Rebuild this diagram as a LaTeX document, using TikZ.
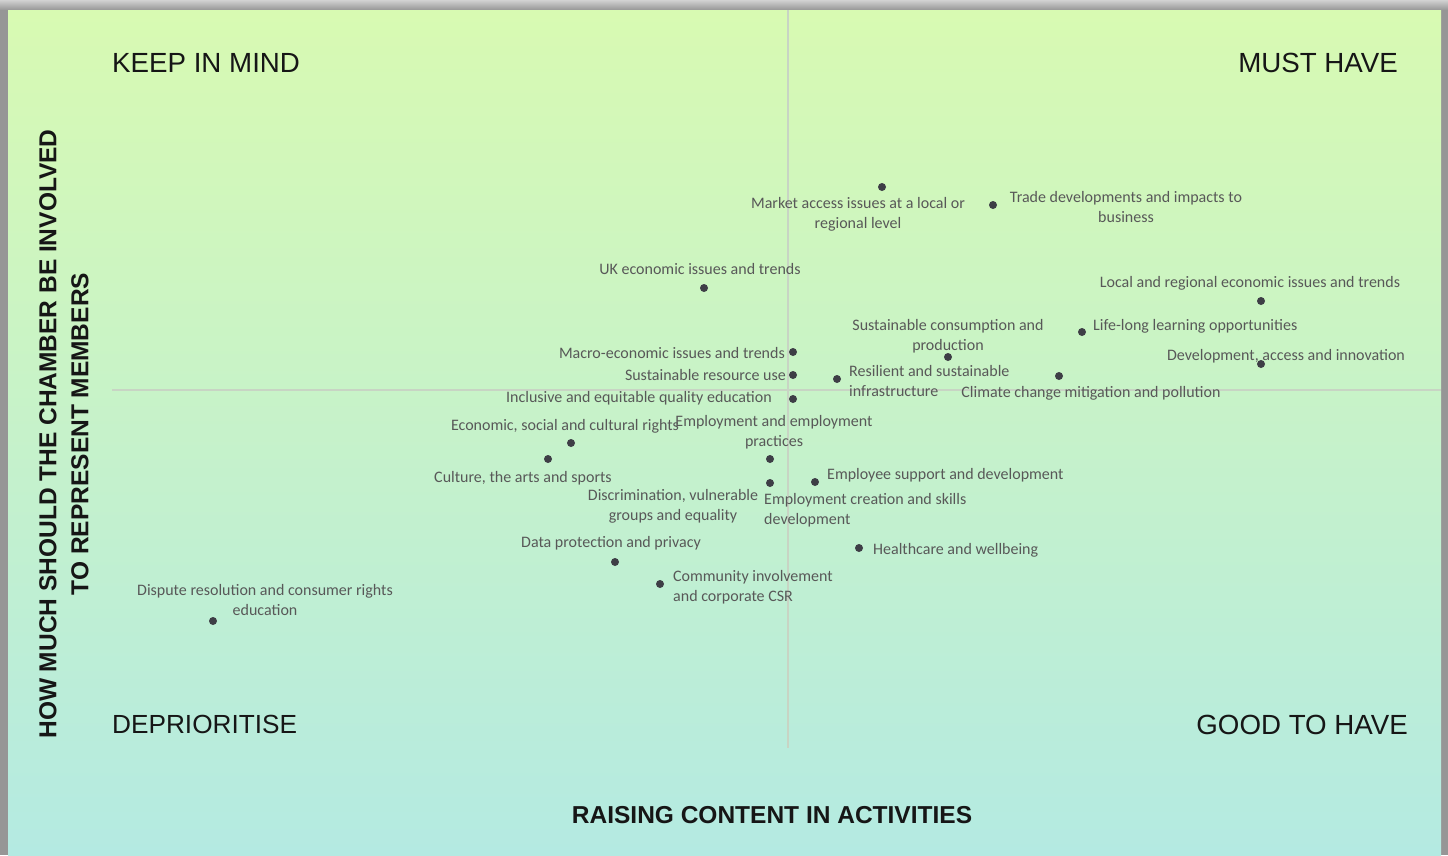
\documentclass[tikz,border=0pt]{standalone}
\usepackage{fontspec}
\newfontfamily\lblfont{Carlito}
\newfontfamily\headfont{Liberation Sans}
\definecolor{dotgray}{RGB}{62,62,70}
\definecolor{lblgray}{RGB}{88,88,88}
\definecolor{headblack}{RGB}{22,22,22}
\definecolor{topgreen}{RGB}{216,250,178}
\definecolor{midgreen}{RGB}{198,241,200}
\definecolor{botcyan}{RGB}{180,234,226}
\definecolor{axisgray}{RGB}{200,212,196}
\definecolor{framegray}{RGB}{150,150,150}

\begin{document}
\begin{tikzpicture}[x=1pt,y=-1pt,
    dot/.style={circle,fill=dotgray,inner sep=0pt,minimum size=8pt},
    lbl/.style={font=\lblfont\fontsize{16}{20}\selectfont,text=lblgray,inner sep=0pt,align=center,anchor=base,yshift=-2pt},
    quad/.style={font=\headfont\fontsize{27.7}{32}\selectfont,text=headblack,inner sep=0pt},
    axislbl/.style={font=\headfont\bfseries\fontsize{24.5}{32}\selectfont,text=headblack,inner sep=0pt,align=center}]
    \useasboundingbox (0,0) rectangle (1448,855);
    % frame and panel
    \fill[framegray] (0,0) rectangle (1448,855);
    \shade[top color=gray!35,bottom color=framegray] (0,0) rectangle (1448,10);
    \shade[top color=topgreen,middle color=midgreen,bottom color=botcyan] (8,10) rectangle (1441,855);
    \draw[axisgray,line width=1.2pt] (788,10) -- (788,748);
    \draw[axisgray,line width=1.2pt] (112,390) -- (1441,390);

    % quadrant titles and axis titles
    \node[quad,anchor=base west] (keep) at (112,72) {KEEP IN MIND};
    \node[quad,anchor=base east] (must) at (1398,72) {MUST HAVE};
    \node[quad,anchor=base west,font=\headfont\fontsize{26.2}{32}\selectfont] (depr) at (112,733) {DEPRIORITISE};
    \node[quad,anchor=base east] (good) at (1408,734) {GOOD TO HAVE};
    \node[axislbl,anchor=base] (xlab) at (772,823) {RAISING CONTENT IN ACTIVITIES};
    \node[axislbl,rotate=90] (ylab) at (64,434) {HOW MUCH SHOULD THE CHAMBER BE INVOLVED\\TO REPRESENT MEMBERS};

    % topics (two-line labels sit on the baseline of their last line)
    \node[dot] (mkt) at (882,187) {};
    \node[lbl] (mkt-l) at (858,226) {Market access issues at a local or\\regional level};
    \node[dot] (trade) at (993,205) {};
    \node[lbl] (trade-l) at (1126,220) {Trade developments and impacts to\\business};
    \node[dot] (uk) at (704,288) {};
    \node[lbl] (uk-l) at (700,272) {UK economic issues and trends};
    \node[dot] (local) at (1261,301) {};
    \node[lbl] (local-l) at (1250,285) {Local and regional economic issues and trends};
    \node[dot] (cons) at (948,357) {};
    \node[lbl] (cons-l) at (948,348) {Sustainable consumption and\\production};
    \node[dot] (life) at (1082,332) {};
    \node[lbl,anchor=base west] (life-l) at (1093,328) {Life-long learning opportunities};
    \node[dot] (devt) at (1261,364) {};
    \node[lbl] (devt-l) at (1286,358) {Development, access and innovation};
    \node[dot] (macro) at (793,352) {};
    \node[lbl,anchor=base east] (macro-l) at (785,356) {Macro-economic issues and trends};
    \node[dot] (res) at (793,375) {};
    \node[lbl,anchor=base east] (res-l) at (786,378) {Sustainable resource use};
    \node[dot] (infra) at (837,379) {};
    \node[lbl,anchor=base west,align=left] (infra-l) at (849,394) {Resilient and sustainable\\infrastructure};
    \node[dot] (clim) at (1059,376) {};
    \node[lbl] (clim-l) at (1091,395) {Climate change mitigation and pollution};
    \node[dot] (educ) at (793,399) {};
    \node[lbl,anchor=base east] (educ-l) at (772,400) {Inclusive and equitable quality education};
    \node[dot] (rights) at (571,443) {};
    \node[lbl] (rights-l) at (565,428) {Economic, social and cultural rights};
    \node[dot] (empl) at (770,459) {};
    \node[lbl] (empl-l) at (774,444) {Employment and employment\\practices};
    \node[dot] (cult) at (548,459) {};
    \node[lbl] (cult-l) at (523,480) {Culture, the arts and sports};
    \node[dot] (supp) at (815,482) {};
    \node[lbl,anchor=base west] (supp-l) at (827,477) {Employee support and development};
    \node[dot] (disc) at (770,483) {};
    \node[lbl] (disc-l) at (673,518) {Discrimination, vulnerable\\groups and equality};
    \node[lbl,anchor=base west,align=left] (skill-l) at (764,522) {Employment creation and skills\\development};
    \node[dot] (data) at (615,562) {};
    \node[lbl] (data-l) at (611,545) {Data protection and privacy};
    \node[dot] (health) at (859,548) {};
    \node[lbl,anchor=base west] (health-l) at (873,552) {Healthcare and wellbeing};
    \node[dot] (csr) at (660,584) {};
    \node[lbl,anchor=base west,align=left] (csr-l) at (673,599) {Community involvement\\and corporate CSR};
    \node[dot] (disp) at (213,621) {};
    \node[lbl] (disp-l) at (265,613) {Dispute resolution and consumer rights\\education};
\end{tikzpicture}
\end{document}
